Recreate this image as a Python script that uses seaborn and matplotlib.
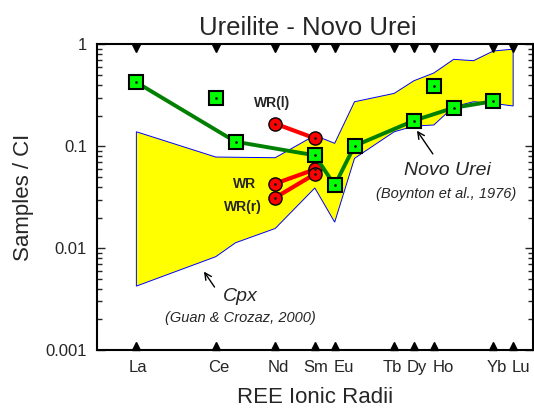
import numpy as np
import pandas as pd
import matplotlib
matplotlib.use('Agg')
import matplotlib.pyplot as plt
import matplotlib.ticker as mticker
from matplotlib.transforms import blended_transform_factory
import seaborn as sns

sns.set_theme(style="ticks")
plt.rcParams['font.family'] = ['Liberation Sans', 'DejaVu Sans']

# REE positions on the ionic-radii axis
ree_names = ['La', 'Ce', 'Pr', 'Nd', 'Sm', 'Eu', 'Gd', 'Tb', 'Dy', 'Ho', 'Er', 'Tm', 'Yb', 'Lu']
ree_pos = [0, 4, 5, 7, 9, 10, 11, 13, 14, 15, 16, 17, 18, 19]
pos = dict(zip(ree_names, ree_pos))
label_names = ['La', 'Ce', 'Nd', 'Sm', 'Eu', 'Tb', 'Dy', 'Ho', 'Yb', 'Lu']
# where the element names sit under the axis (spread a little so they don't collide)
label_pos = [0.08, 4.16, 7.18, 9.05, 10.45, 12.9, 14.15, 15.46, 18.18, 19.4]

# Cpx band (Guan & Crozaz, 2000)
cpx_hi_el = ['La', 'Ce', 'Nd', 'Sm', 'Eu', 'Gd', 'Tb', 'Dy', 'Ho', 'Er', 'Tm', 'Yb', 'Lu']
cpx_hi = [0.139, 0.0785, 0.0773, 0.128, 0.107, 0.274, 0.331, 0.441, 0.525, 0.715, 0.693, 0.863, 0.90]
cpx_lo_el = ['La', 'Ce', 'Pr', 'Nd', 'Sm', 'Eu', 'Gd', 'Tb', 'Dy', 'Ho', 'Er', 'Tm', 'Yb', 'Lu']
cpx_lo = [0.00424, 0.00824, 0.0113, 0.0156, 0.039, 0.018, 0.0762, 0.139, 0.158, 0.162, 0.245, 0.274, 0.264, 0.249]

# Novo Urei (Boynton et al., 1976)
novo_el = ['La', 'Pr', 'Sm', 'Eu', 'Gd', 'Dy', 'Er', 'Yb']
novo_val = [0.425, 0.111, 0.0816, 0.0414, 0.101, 0.179, 0.239, 0.277]
novo_extra_el = ['Ce', 'Ho']
novo_extra_val = [0.296, 0.391]

# whole rock
wr_el = ['Nd', 'Sm']
wr_l = [0.167, 0.12]
wr = [0.043, 0.0594]
wr_r = [0.0313, 0.0534]

fig = plt.figure(figsize=(5.34, 4.09), dpi=100)
ax = fig.add_axes([0.1811, 0.1443, 0.8170, 0.7469])

# band
xb = [pos[e] for e in cpx_hi_el] + [pos[e] for e in cpx_lo_el][::-1]
yb = cpx_hi + cpx_lo[::-1]
ax.fill(xb, yb, facecolor='#ffff00', edgecolor='#0000ff', linewidth=0.7, zorder=1)

# WR lines
for vals in [wr_l, wr, wr_r]:
    d = pd.DataFrame({'x': [pos[e] for e in wr_el], 'y': vals})
    sns.lineplot(data=d, x='x', y='y', ax=ax, color='#ff0000', linewidth=3, sort=False,
                 estimator=None, marker='o', markersize=9.5, markerfacecolor='#ff0000',
                 markeredgecolor='black', markeredgewidth=1.0, zorder=3)
    ax.plot(d['x'], d['y'], 'k.', markersize=2, zorder=4)

# Novo Urei
dn = pd.DataFrame({'x': [pos[e] for e in novo_el], 'y': novo_val})
sns.lineplot(data=dn, x='x', y='y', ax=ax, color='#008000', linewidth=2.8, sort=False,
             estimator=None, marker='s', markersize=9.5, markerfacecolor='#00ff00',
             markeredgecolor='black', markeredgewidth=1.5, zorder=5)
ax.plot(dn['x'], dn['y'], 'k.', markersize=2, zorder=6)
de = pd.DataFrame({'x': [pos[e] for e in novo_extra_el], 'y': novo_extra_val})
ax.plot(de['x'], de['y'], 's', markersize=9.5, markerfacecolor='#00ff00',
        markeredgecolor='black', markeredgewidth=1.5, zorder=5)
ax.plot(de['x'], de['y'], 'k.', markersize=2, zorder=6)

# element markers on top and bottom
lx = [pos[e] for e in label_names]
tr = blended_transform_factory(ax.transData, ax.transAxes)
ax.plot(lx, [0.987] * len(lx), 'v', color='black', markersize=6, transform=tr, clip_on=False, zorder=7)
ax.plot(lx, [0.012] * len(lx), '^', color='black', markersize=6, transform=tr, clip_on=False, zorder=7)

# labels
ax.text(6.82, 0.264, 'WR(l)', fontsize=10, fontweight='bold', ha='center', va='center')
ax.text(5.48, 0.0426, 'WR', fontsize=10, fontweight='bold', ha='center', va='center')
ax.text(5.39, 0.0255, 'WR(r)', fontsize=10, fontweight='bold', ha='center', va='center')

ax.annotate('', xy=(14.07, 0.150), xytext=(15.03, 0.080),
            arrowprops=dict(arrowstyle='->', color='black', lw=1))
ax.text(15.69, 0.0585, 'Novo Urei', fontsize=14, style='italic', ha='center', va='center')
ax.text(15.61, 0.034, '(Boynton et al., 1976)', fontsize=10.5, style='italic', ha='center', va='center')

ax.annotate('', xy=(3.33, 0.0062), xytext=(4.02, 0.00394),
            arrowprops=dict(arrowstyle='->', color='black', lw=1))
ax.text(5.23, 0.00333, 'Cpx', fontsize=14, style='italic', ha='center', va='center')
ax.text(5.23, 0.00204, '(Guan & Crozaz, 2000)', fontsize=10.5, style='italic', ha='center', va='center')

# axes
ax.set_yscale('log')
ax.set_ylim(0.001, 1)
ax.set_xlim(-2, 20)
ax.set_xticks(label_pos)
ax.set_xticklabels(label_names)
ax.yaxis.set_major_locator(mticker.FixedLocator([0.001, 0.01, 0.1, 1]))
ax.yaxis.set_major_formatter(mticker.FixedFormatter(['0.001', '0.01', '0.1', '1']))
ax.yaxis.set_minor_locator(mticker.LogLocator(base=10, subs=np.arange(2, 10)))
ax.yaxis.set_minor_formatter(mticker.NullFormatter())
ax.tick_params(axis='x', length=0, pad=7, labelsize=12)
ax.tick_params(axis='y', which='major', direction='in', length=6, width=1, labelsize=12,
               left=True, right=True, pad=7)
ax.tick_params(axis='y', which='minor', direction='in', length=3.5, width=1, left=True, right=True)
for s in ax.spines.values():
    s.set_linewidth(1.5)
    s.set_color('black')

ax.set_xlabel('REE Ionic Radii', fontsize=16, labelpad=8.5)
ax.set_ylabel('Samples / CI', fontsize=16, labelpad=8)
ax.set_title('Ureilite - Novo Urei', fontsize=18.5, pad=7, x=0.483)

fig.savefig('out.png', dpi=100)
